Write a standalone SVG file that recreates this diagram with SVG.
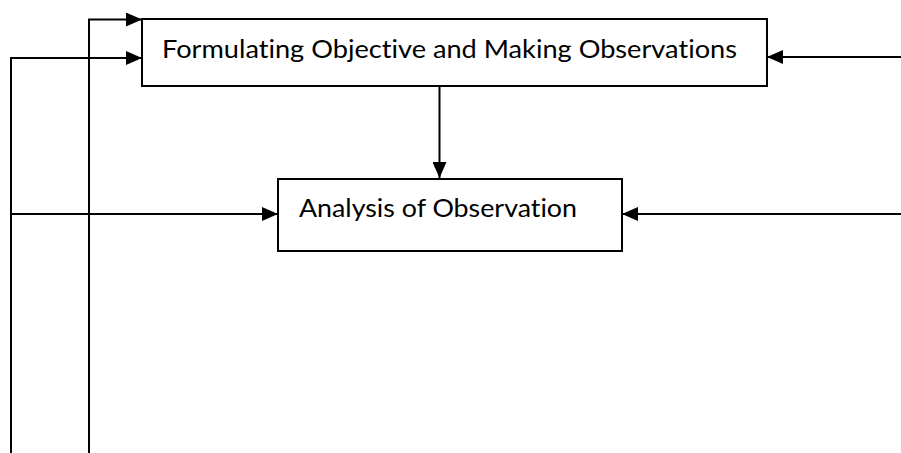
<svg xmlns="http://www.w3.org/2000/svg" width="901" height="453" viewBox="0 0 901 453">
  <style>
    .box { fill: #fff; stroke: #000; stroke-width: 2; }
    .label { font-family: Lato, "Open Sans", "Liberation Sans", sans-serif; font-size: 25px; fill: #000; font-variant-ligatures: none; }
    .wire { fill: none; stroke: #000; stroke-width: 2; }
  </style>
  <defs>
    <marker id="arrow" viewBox="0 0 16 14" refX="16" refY="7" markerWidth="16" markerHeight="14" markerUnits="userSpaceOnUse" orient="auto">
      <path d="M0,0 L16,7 L0,14 Z" fill="#000"/>
    </marker>
  </defs>

  <g id="connectors">
    <!-- feedback loops on the left -->
    <path class="wire" d="M89,453 V19.5 H142" marker-end="url(#arrow)"/>
    <path class="wire" d="M11,453 V58 H142" marker-end="url(#arrow)"/>
    <path class="wire" d="M11,214 H278" marker-end="url(#arrow)"/>
    <!-- inputs from the right -->
    <path class="wire" d="M901,57 H767" marker-end="url(#arrow)"/>
    <path class="wire" d="M901,214 H622" marker-end="url(#arrow)"/>
    <!-- objective to analysis -->
    <path class="wire" d="M439.5,86 V178" marker-end="url(#arrow)"/>
  </g>

  <g id="objective">
    <rect class="box" x="142" y="19" width="625" height="67"/>
    <text class="label" x="162" y="58" textLength="575" lengthAdjust="spacingAndGlyphs">Formulating Objective and Making Observations</text>
  </g>

  <g id="analysis">
    <rect class="box" x="278" y="179" width="344" height="72"/>
    <text class="label" x="299" y="217" textLength="278" lengthAdjust="spacingAndGlyphs">Analysis of Observation</text>
  </g>
</svg>
